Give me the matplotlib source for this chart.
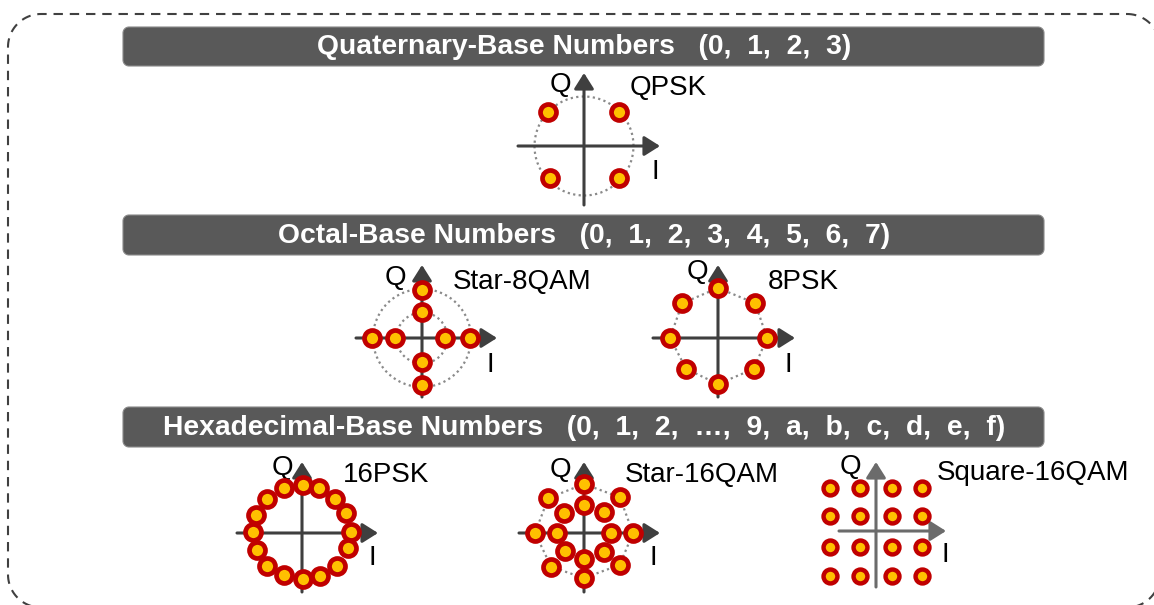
import numpy as np
import matplotlib
matplotlib.use('Agg')
import matplotlib.pyplot as plt
from matplotlib.patches import Circle, Polygon

plt.rcParams['font.family'] = ['Liberation Sans', 'DejaVu Sans']

# 星座点数据 (I, Q)，单位: 外圈半径约为 1
qpsk_i = [-0.73, 0.71, -0.69, 0.71]
qpsk_q = [0.69, 0.69, -0.65, -0.65]

star8_i = [0.0, 0.0, -1.02, -0.55, 0.47, 0.98, 0.0, 0.0]
star8_q = [0.98, 0.53, 0.0, 0.0, 0.0, 0.0, -0.49, -0.96]
star8_rings = [1.0, 0.52]

psk8_i = [0.0, 0.76, 1.0, 0.73, 0.0, -0.65, -0.98, -0.73]
psk8_q = [1.02, 0.71, 0.0, -0.63, -0.94, -0.63, 0.0, 0.71]

psk16_i = [0.02, 0.35, 0.67, 0.90, 1.0, 0.94, 0.71, 0.37,
           0.02, -0.37, -0.71, -0.92, -1.0, -0.94, -0.71, -0.37]
psk16_q = [0.98, 0.92, 0.69, 0.41, 0.02, -0.31, -0.67, -0.88,
           -0.94, -0.86, -0.67, -0.35, 0.02, 0.37, 0.69, 0.92]

star16_outer_i = [0.0, 0.73, 1.0, 0.73, 0.0, -0.67, -1.0, -0.73]
star16_outer_q = [1.0, 0.73, 0.0, -0.65, -0.92, -0.69, 0.0, 0.71]
star16_inner_i = [0.0, 0.41, 0.55, 0.41, 0.0, -0.39, -0.55, -0.41]
star16_inner_q = [0.57, 0.43, 0.0, -0.39, -0.53, -0.37, 0.0, 0.41]

sq16_cols = [-0.94, -0.33, 0.33, 0.94]
sq16_rows = [0.88, 0.31, -0.33, -0.92]

banners = ['Quaternary-Base Numbers   (0,  1,  2,  3)',
           'Octal-Base Numbers   (0,  1,  2,  3,  4,  5,  6,  7)',
           'Hexadecimal-Base Numbers   (0,  1,  2,  \u2026,  9,  a,  b,  c,  d,  e,  f)']

W, H = 1154, 605
S = 49.0  # 每个单位对应的像素
RED = '#C00000'
YEL = '#FFC000'
DARK = '#3f3f3f'

fig = plt.figure(figsize=(W / 100, H / 100), dpi=100)

bg = fig.add_axes([0, 0, 1, 1])
bg.set_xlim(0, W)
bg.set_ylim(H, 0)
bg.axis('off')


def rounded_rect(x0, y0, x1, y1, r, n=24):
    xs, ys = [], []
    corners = [(x1 - r, y0 + r, -90, 0), (x1 - r, y1 - r, 0, 90),
               (x0 + r, y1 - r, 90, 180), (x0 + r, y0 + r, 180, 270)]
    for cx, cy, a0, a1 in corners:
        t = np.radians(np.linspace(a0, a1, n))
        xs.extend(cx + r * np.cos(t))
        ys.extend(cy + r * np.sin(t))
    xs.append(xs[0])
    ys.append(ys[0])
    return xs, ys


# 虚线圆角外框
fx, fy = rounded_rect(8, 14, 1160, 607.5, 33)
bg.plot(fx, fy, color='#404040', lw=1.5, ls=(0, (4.5, 3.3)))

# 标题条
for (y0, y1), txt in zip([(27, 66), (215, 255), (407, 447)], banners):
    bx, by = rounded_rect(123, y0, 1044, y1, 6)
    bg.fill(bx, by, fc='#595959', ec='#8a8a8a', lw=0.8)
    bg.text(584, (y0 + y1) / 2 + 1, txt, color='white', fontsize=20.3, fontweight='bold',
            ha='center', va='center')


def const_axes(cx, cy, half=100):
    ax = fig.add_axes([(cx - half) / W, 1 - (cy + half) / H, 2 * half / W, 2 * half / H])
    ax.set_xlim(-half / S, half / S)
    ax.set_ylim(-half / S, half / S)
    ax.axis('off')
    ax.patch.set_visible(False)
    return ax


def draw_axes(ax, xl, xr, yb, yt, color=DARK):
    ap = dict(arrowstyle='-|>,head_length=0.95,head_width=0.6', lw=2.2, color=color,
              shrinkA=0, shrinkB=0, mutation_scale=10)
    ax.annotate('', xy=(xr / S, 0), xytext=(xl / S, 0), arrowprops=ap)
    ax.annotate('', xy=(0, yt / S), xytext=(0, yb / S), arrowprops=ap)


def labels(ax, name, q_off, n_off, i_off):
    ax.text(q_off[0] / S, q_off[1] / S, 'Q', fontsize=20, ha='center', va='center')
    ax.text(n_off[0] / S, n_off[1] / S, name, fontsize=20, ha='left', va='center')
    ax.text(i_off[0] / S, i_off[1] / S, 'I', fontsize=20, ha='center', va='center')


def dots(ax, xs, ys, ms=11.5, mew=3.4):
    ax.plot(xs, ys, 'o', ms=ms, mfc=YEL, mec=RED, mew=mew, ls='none', clip_on=False, zorder=5)


def dotted(ax, patch):
    patch.set_fill(False)
    patch.set_edgecolor('#8a8a8a')
    patch.set_linewidth(1.6)
    patch.set_linestyle((0, (1, 1.5)))
    ax.add_patch(patch)


# QPSK
ax = const_axes(584, 146)
dotted(ax, Circle((0, 0), 1.01))
draw_axes(ax, -66, 76, -59, 73)
dots(ax, qpsk_i, qpsk_q)
labels(ax, 'QPSK', (-24, 61), (46, 58), (71, -26))

# Star-8QAM
ax = const_axes(422, 338)
for r in star8_rings:
    dotted(ax, Circle((0, 0), r))
draw_axes(ax, -66, 75, -59, 73)
dots(ax, star8_i, star8_q)
labels(ax, 'Star-8QAM', (-27, 60), (31, 56), (68, -27))

# 8PSK
ax = const_axes(718, 338)
dotted(ax, Polygon(np.column_stack([psk8_i, psk8_q]), closed=True))
draw_axes(ax, -65, 77, -59, 73)
dots(ax, psk8_i, psk8_q)
labels(ax, '8PSK', (-21, 66), (50, 56), (70, -27))

# 16PSK
ax = const_axes(302, 533)
draw_axes(ax, -65, 76, -59, 71)
dots(ax, psk16_i, psk16_q)
labels(ax, '16PSK', (-20, 65), (41, 58), (70, -25))

# Star-16QAM
ax = const_axes(584, 533)
dotted(ax, Polygon(np.column_stack([star16_outer_i, star16_outer_q]), closed=True))
draw_axes(ax, -65, 76, -59, 71)
dots(ax, star16_outer_i, star16_outer_q)
dots(ax, star16_inner_i, star16_inner_q)
labels(ax, 'Star-16QAM', (-24, 63), (41, 58), (69, -25))

# Square-16QAM
ax = const_axes(876, 531)
draw_axes(ax, -37, 70, -56, 69, color='#6b6b6b')
gi, gq = np.meshgrid(sq16_cols, sq16_rows)
dots(ax, gi.ravel(), gq.ravel(), ms=10, mew=3.2)
labels(ax, 'Square-16QAM', (-26, 64), (61, 58), (69, -24))

fig.savefig('out.png', dpi=100)
